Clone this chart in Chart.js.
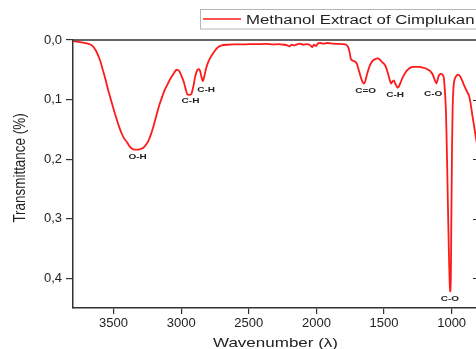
<!DOCTYPE html>
<html>
<head>
<meta charset="utf-8">
<script src="https://cdn.jsdelivr.net/npm/chart.js@4.4.0/dist/chart.umd.min.js"></script>
<style>
  html, body { margin: 0; padding: 0; background: #fff; overflow: hidden; }
  #c { display: block; }
</style>
</head>
<body>
<canvas id="c" width="479" height="349"></canvas>
<script>
// ---- data ----
const wavenumbers = [
  3800, 3760, 3720, 3690, 3660, 3630, 3600, 3580, 3560, 3540, 3520, 3500, 3480, 3460, 3440, 3420, 3400, 3380, 3360, 3340,
  3320, 3300, 3280, 3260, 3240, 3220, 3200, 3180, 3160, 3140, 3120, 3100, 3080, 3060, 3040, 3030, 3015, 3000, 2980, 2965,
  2955, 2940, 2925, 2910, 2895, 2880, 2870, 2860, 2850, 2840, 2830, 2815, 2800, 2780, 2760, 2740, 2720, 2700, 2660, 2620,
  2560, 2500, 2440, 2380, 2320, 2280, 2240, 2215, 2200, 2185, 2160, 2140, 2120, 2100, 2070, 2050, 2030, 2020, 2000, 1990,
  1970, 1950, 1920, 1880, 1840, 1800, 1780, 1765, 1755, 1745, 1730, 1715, 1700, 1690, 1675, 1660, 1650, 1640, 1625, 1605,
  1585, 1565, 1545, 1530, 1515, 1500, 1485, 1470, 1455, 1446, 1435, 1427, 1415, 1400, 1390, 1375, 1360, 1340, 1320, 1300,
  1280, 1260, 1240, 1220, 1200, 1180, 1160, 1140, 1125, 1113, 1105, 1095, 1080, 1068, 1058, 1050, 1042, 1034, 1028, 1021,
  1014, 1010, 1006, 1002, 997, 992, 987, 980, 970, 960, 952, 940, 930, 915, 900, 885, 872, 860, 847, 835, 820, 805
];
const transmittance = [
  0.002, 0.003, 0.005, 0.006, 0.009, 0.018, 0.034, 0.050, 0.066, 0.084, 0.100, 0.116, 0.131, 0.145, 0.157, 0.166, 0.172, 0.179, 0.183, 0.184,
  0.184, 0.183, 0.181, 0.176, 0.168, 0.156, 0.141, 0.124, 0.108, 0.095, 0.083, 0.074, 0.065, 0.058, 0.051, 0.050, 0.052, 0.059, 0.071, 0.084,
  0.091, 0.092, 0.091, 0.078, 0.060, 0.050, 0.049, 0.052, 0.062, 0.069, 0.062, 0.047, 0.037, 0.028, 0.021, 0.015, 0.011, 0.009, 0.008, 0.0075,
  0.0075, 0.007, 0.007, 0.0065, 0.0075, 0.007, 0.008, 0.009, 0.011, 0.008, 0.009, 0.007, 0.006, 0.008, 0.007, 0.008, 0.012, 0.008, 0.010, 0.006,
  0.005, 0.006, 0.005, 0.006, 0.0065, 0.007, 0.008, 0.012, 0.020, 0.032, 0.035, 0.036, 0.040, 0.048, 0.060, 0.070, 0.073, 0.070, 0.057, 0.043,
  0.035, 0.032, 0.031, 0.033, 0.037, 0.040, 0.046, 0.057, 0.069, 0.073, 0.069, 0.068, 0.074, 0.080, 0.078, 0.070, 0.062, 0.054, 0.049, 0.046,
  0.045, 0.045, 0.045, 0.046, 0.047, 0.049, 0.052, 0.058, 0.067, 0.073, 0.068, 0.060, 0.057, 0.058, 0.063, 0.085, 0.120, 0.200, 0.270, 0.350,
  0.410, 0.422, 0.400, 0.300, 0.180, 0.110, 0.082, 0.068, 0.062, 0.059, 0.058, 0.060, 0.064, 0.072, 0.080, 0.087, 0.093, 0.106, 0.126, 0.143, 0.165, 0.185
];
const xTickValues = [3500, 3000, 2500, 2000, 1500, 1000];
const yTickValues = [0, 0.1, 0.2, 0.3, 0.4];
const bandLabels = ['O-H', 'C-H', 'C-H', 'C=O', 'C-H', 'C-O', 'C-O'];
const bandLabelWn = [3322, 2931, 2816, 1636, 1418, 1137, 1013];
const bandLabelT = [0.196, 0.102, 0.083, 0.085, 0.092, 0.091, 0.434];
const seriesName = 'Methanol Extract of Cimplukan';
const xTitle = 'Wavenumber (\u03BB)';
const yTitle = 'Transmittance (%)';

const SQ = 0.79; // vertical squish of the text in the reference
const FONT = '"Liberation Sans", Arial, Helvetica, sans-serif';
const AXIS_COLOR = '#333333';
const TEXT_COLOR = '#222222';

function squishText(ctx, text, x, y, font, align, baseline, rotate) {
  ctx.save();
  ctx.translate(x, y);
  ctx.scale(1, SQ);
  if (rotate) ctx.rotate(-Math.PI / 2);
  ctx.font = font;
  ctx.textAlign = align;
  ctx.textBaseline = baseline;
  ctx.fillStyle = TEXT_COLOR;
  ctx.fillText(text, 0, 0);
  ctx.restore();
}

const decorPlugin = {
  id: 'decor',
  afterDraw(chart) {
    const ctx = chart.ctx;
    const a = chart.chartArea;
    const xs = chart.scales.x, ys = chart.scales.y;
    // top and right frame lines
    ctx.save();
    ctx.strokeStyle = AXIS_COLOR;
    ctx.lineWidth = 1.5;
    ctx.beginPath();
    ctx.moveTo(a.left, a.top);
    ctx.lineTo(a.right, a.top);
    ctx.moveTo(a.right, a.top);
    ctx.lineTo(a.right, a.bottom);
    ctx.stroke();
    // right axis inward ticks
    ctx.lineWidth = 1.2;
    ctx.beginPath();
    yTickValues.forEach(v => {
      if (v === 0) return;
      const py = Math.round(ys.getPixelForValue(v)) + 0.5;
      ctx.moveTo(a.right - 5, py);
      ctx.lineTo(a.right, py);
    });
    ctx.stroke();
    ctx.restore();

    // band labels
    bandLabels.forEach((t, i) => {
      const px = xs.getPixelForValue(bandLabelWn[i]);
      const py = ys.getPixelForValue(bandLabelT[i]);
      squishText(ctx, t, px, py, 'bold 10px ' + FONT, 'center', 'middle', false);
    });

    // axis titles
    squishText(ctx, xTitle, (a.left + a.right) / 2, 346.5, '17px ' + FONT, 'center', 'alphabetic', false);
    squishText(ctx, yTitle, 25, 168, '17px ' + FONT, 'center', 'alphabetic', true);

    // legend
    ctx.save();
    ctx.fillStyle = '#ffffff';
    ctx.fillRect(200.5, 9.5, 300, 19.5);
    ctx.strokeStyle = '#b5b5b5';
    ctx.lineWidth = 1;
    ctx.strokeRect(200.5, 9.5, 300, 19.5);
    ctx.strokeStyle = '#ff1a1a';
    ctx.lineWidth = 1.6;
    ctx.beginPath();
    ctx.moveTo(203, 19);
    ctx.lineTo(241, 19);
    ctx.stroke();
    ctx.restore();
    squishText(ctx, seriesName, 246, 24, '16.8px ' + FONT, 'left', 'alphabetic', false);
  }
};

new Chart(document.getElementById('c'), {
  type: 'line',
  data: {
    datasets: [{
      label: seriesName,
      data: wavenumbers.map((w, i) => ({ x: w, y: transmittance[i] })),
      borderColor: '#ff1a1a',
      borderWidth: 1.8,
      pointRadius: 0,
      tension: 0.2,
      fill: false
    }]
  },
  options: {
    responsive: false,
    animation: false,
    devicePixelRatio: 1,
    layout: { padding: { top: 40, right: 1, left: 0, bottom: 0 } },
    plugins: { legend: { display: false }, tooltip: { enabled: false } },
    scales: {
      x: {
        type: 'linear',
        reverse: true,
        min: 805,
        max: 3800,
        border: { display: true, color: AXIS_COLOR, width: 1.5 },
        grid: { drawOnChartArea: false, drawTicks: true, tickLength: 6, color: AXIS_COLOR, lineWidth: 1.2 },
        ticks: {
          autoSkip: false,
          color: TEXT_COLOR,
          font: { family: FONT, size: 13 },
          padding: 2,
          maxRotation: 0,
          callback: v => String(v)
        },
        afterBuildTicks(s) { s.ticks = xTickValues.map(v => ({ value: v })); },
        afterFit(s) { s.height = 41; }
      },
      y: {
        type: 'linear',
        reverse: true,
        min: 0,
        max: 0.45,
        border: { display: true, color: AXIS_COLOR, width: 1.5 },
        grid: { drawOnChartArea: false, drawTicks: true, tickLength: 7, color: AXIS_COLOR, lineWidth: 1.2 },
        ticks: {
          autoSkip: false,
          color: TEXT_COLOR,
          font: { family: FONT, size: 13 },
          padding: 4,
          callback: v => Number(v).toFixed(1).replace('.', ',')
        },
        afterBuildTicks(s) { s.ticks = yTickValues.map(v => ({ value: v })); },
        afterFit(s) { s.width = 73; }
      }
    }
  },
  plugins: [decorPlugin]
});
</script>
</body>
</html>
